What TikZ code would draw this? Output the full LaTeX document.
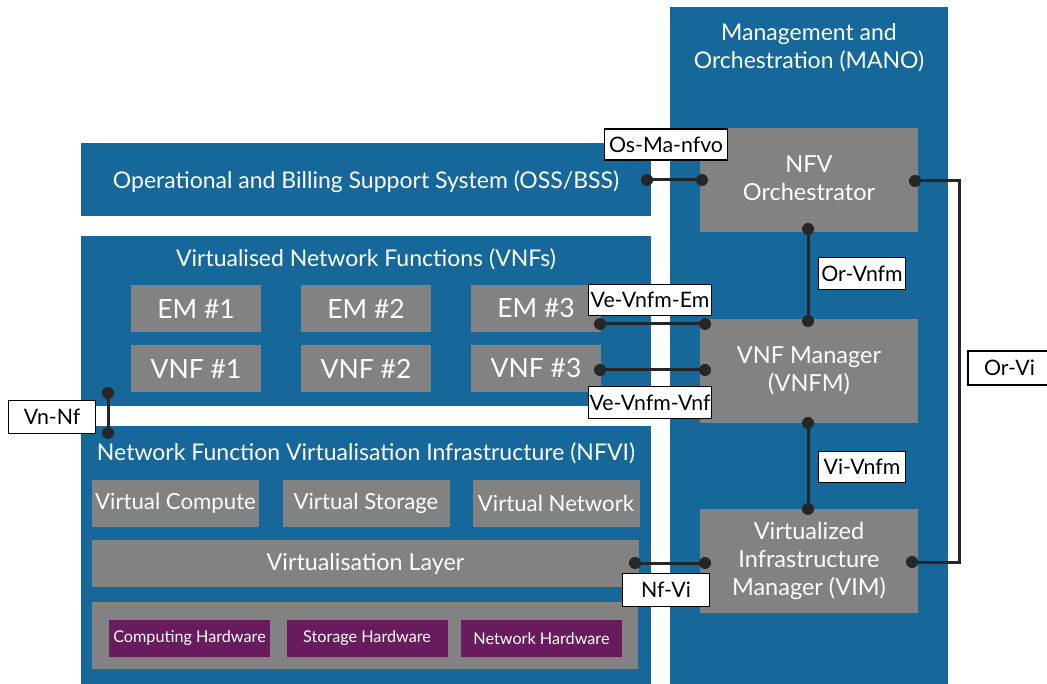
\documentclass[tikz,border=0pt]{standalone}
\usepackage{fontspec}
\setmainfont{Lato}
\definecolor{manoblue}{HTML}{16689A}
\definecolor{boxgray}{HTML}{828282}
\definecolor{hwpurple}{HTML}{681C5E}
\tikzset{
  panel/.style={fill=manoblue, draw=none, inner sep=0pt},
  gbox/.style={fill=boxgray, draw=none, inner sep=0pt, text=white, align=center},
  hwbox/.style={fill=hwpurple, draw=none, inner sep=0pt, text=white, font=\fontsize{16.2}{20}\selectfont},
  ttl/.style={text=white, align=center, inner sep=0pt},
  lbl/.style={fill=white, draw=black, line width=1.5pt, inner sep=0pt, font=\fontsize{21.3}{24}\selectfont},
  link/.style={line width=3pt, draw=black!85},
  dot/.style={circle, fill=black!85, minimum size=12pt, inner sep=0pt}
}
\begin{document}
\begin{tikzpicture}[x=1pt, y=-1pt]
\useasboundingbox (0,0) rectangle (1047,684);
\begin{scope}
\clip (0,0) rectangle (1047,684);
% panels
\node[panel, minimum width=278pt, minimum height=677pt] (mano) at (809,345.5) {};
\node[panel, minimum width=570pt, minimum height=73pt] (oss) at (366,179.5) {};
\node[panel, minimum width=570pt, minimum height=170pt] (vnfs) at (366,321) {};
\node[panel, minimum width=570pt, minimum height=258pt] (nfvi) at (366,555) {};
% titles
\node[ttl, font=\fontsize{23}{28}\selectfont] (manot) at (809,48) {Management and\\Orchestration (MANO)};
\node[ttl, font=\fontsize{23}{28}\selectfont] (osst) at (366,181.5) {Operational and Billing Support System (OSS/BSS)};
\node[ttl, font=\fontsize{23}{28}\selectfont] (vnft) at (366,259.5) {Virtualised Network Functions (VNFs)};
\node[ttl, font=\fontsize{23}{28}\selectfont] (nfvit) at (366,453.5) {Network Function Virtualisation Infrastructure (NFVI)};
% MANO blocks
\node[gbox, minimum width=218pt, minimum height=104pt, font=\fontsize{23.5}{28}\selectfont] (nfvo) at (809,180) {};
\node[ttl, font=\fontsize{23.5}{28}\selectfont] (nfvot) at (809,178) {NFV\\Orchestrator};
\node[gbox, minimum width=218pt, minimum height=104pt, font=\fontsize{23.5}{28}\selectfont] (vnfm) at (809,371) {VNF Manager\\(VNFM)};
\node[gbox, minimum width=218pt, minimum height=104pt, font=\fontsize{23.5}{28}\selectfont] (vim) at (809,561) {Virtualized\\Infrastructure\\Manager (VIM)};
% EMs / VNFs
\foreach \i/\x in {1/196,2/366,3/536}{
  \node[gbox, minimum width=130pt, minimum height=47pt, font=\fontsize{26.5}{30}\selectfont] (em\i) at (\x,308.5) {EM \#\i};
  \node[gbox, minimum width=130pt, minimum height=47pt, font=\fontsize{26.5}{30}\selectfont] (vnf\i) at (\x,368.5) {VNF \#\i};
}
% NFVI content
\node[gbox, minimum width=167pt, minimum height=47pt, font=\fontsize{22.2}{26}\selectfont] (vc) at (175.5,503.5) {Virtual Compute};
\node[gbox, minimum width=167pt, minimum height=47pt, font=\fontsize{22.2}{26}\selectfont] (vs) at (366,503.5) {Virtual Storage};
\node[gbox, minimum width=167pt, minimum height=47pt, font=\fontsize{22.2}{26}\selectfont] (vn) at (556,503.5) {Virtual Network};
\node[gbox, minimum width=547pt, minimum height=47pt, font=\fontsize{23.3}{26}\selectfont] (vl) at (365.5,563.5) {Virtualisation Layer};
\node[gbox, minimum width=546pt, minimum height=67pt] (hw) at (365,635.5) {};
\node[hwbox, minimum width=161pt, minimum height=37pt] (chw) at (189.5,638.5) {Computing Hardware};
\node[hwbox, minimum width=161pt, minimum height=37pt] (shw) at (367,638.5) {Storage Hardware};
\node[hwbox, minimum width=161pt, minimum height=37pt] (nhw) at (541.5,638.5) {Network Hardware};
% connector end points
\coordinate (osA) at (647,180); \coordinate (osB) at (702,180);
\coordinate (orA) at (808,229); \coordinate (orB) at (808,321);
\coordinate (emA) at (600,324); \coordinate (emB) at (705,324);
\coordinate (vfA) at (600,370); \coordinate (vfB) at (705,370);
\coordinate (nfA) at (108,393); \coordinate (nfB) at (108,433);
\coordinate (viA) at (808,423); \coordinate (viB) at (808,509);
\coordinate (nvA) at (635,563); \coordinate (nvB) at (705,563);
\coordinate (ovA) at (915,181); \coordinate (ovC1) at (959,181); \coordinate (ovC2) at (959,562); \coordinate (ovB) at (912,562);
% links
\draw[link] (osA) -- (osB);
\draw[link] (orA) -- (orB);
\draw[link] (emA) -- (emB);
\draw[link] (vfA) -- (vfB);
\draw[link] (nfA) -- (nfB);
\draw[link] (viA) -- (viB);
\draw[link] (nvA) -- (nvB);
\draw[link, line join=miter] (ovA) -- (ovC1) -- (ovC2) -- (ovB);
\foreach \p in {osA,osB,orA,orB,emA,emB,vfA,vfB,nfA,nfB,viA,viB,nvA,nvB,ovA,ovB}{
  \node[dot] at (\p) {};
}
% labels
\node[lbl, minimum width=123pt, minimum height=31pt] (l1) at (666,144.5) {Os-Ma-nfvo};
\node[lbl, minimum width=87pt, minimum height=32pt] (l2) at (862,273.5) {Or-Vnfm};
\node[lbl, minimum width=123pt, minimum height=31pt] (l3) at (650,300) {Ve-Vnfm-Em};
\node[lbl, minimum width=123pt, minimum height=32pt] (l4) at (650,402.5) {Ve-Vnfm-Vnf};
\node[lbl, minimum width=87pt, minimum height=33pt] (l5) at (52,417) {Vn-Nf};
\node[lbl, minimum width=87pt, minimum height=31pt] (l6) at (862,467) {Vi-Vnfm};
\node[lbl, minimum width=87pt, minimum height=33pt] (l7) at (666,590) {Nf-Vi};
\node[lbl, minimum width=82pt, minimum height=34pt, text width=80pt, align=left] (l8) at (1009,368) {\hspace*{15pt}Or-Vi};
\end{scope}
\end{tikzpicture}
\end{document}
